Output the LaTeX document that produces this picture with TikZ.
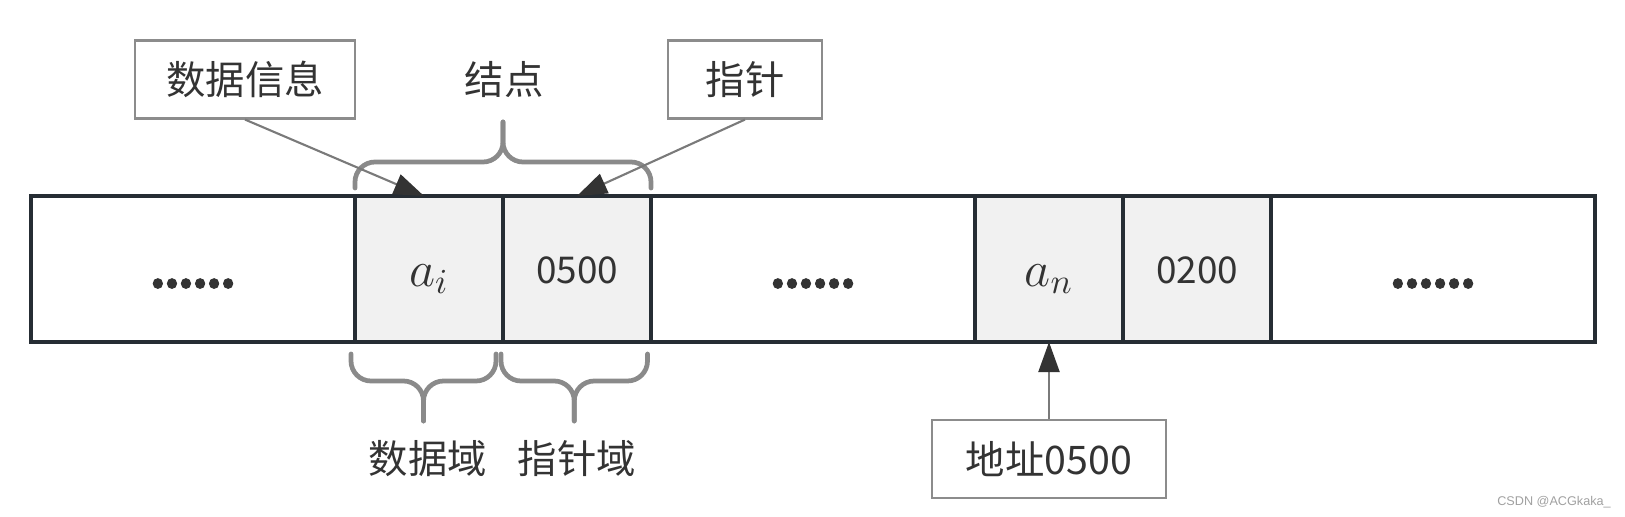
\documentclass[tikz,border=0pt]{standalone}
\usepackage{fontspec}
\setmainfont{Noto Sans CJK SC}
\newfontfamily\markfont{Liberation Sans}
\newfontfamily\dotfont[LetterSpace=-7.8,FakeBold=1.3]{Noto Sans CJK SC}
\usepackage{xcolor}
\usepackage{tikz}
\usetikzlibrary{positioning,arrows.meta,calc}
\definecolor{ink}{HTML}{333333}
\definecolor{barline}{HTML}{262D34}
\definecolor{cellfill}{HTML}{F1F1F1}
\definecolor{frame}{HTML}{8C8C8C}
\definecolor{bracegray}{HTML}{8A8A8A}
\definecolor{wire}{HTML}{7A7A7A}
\definecolor{tipdark}{HTML}{333333}
\definecolor{markgray}{HTML}{A0A0A0}
\newcommand{\bracepath}[4]{%
  \draw[bracepen] (#1) |- ($(#1)!.5!(#2)+(0,#3)$) -- ($(#1)!.5!(#2)+(0,#4)$);
  \draw[bracepen] ($(#1)!.5!(#2)+(0,#4)$) -- ($(#1)!.5!(#2)+(0,#3)$) -| (#2);}
\tikzset{
  memcell/.style={draw=barline, line width=1pt, outer sep=0pt,
        minimum height=1.46cm, text=ink, text depth=0pt},
  dotcell/.style={memcell, minimum width=3.24cm, text height=0.37cm,
        font=\dotfont\fontsize{20}{22}\selectfont},
  datacell/.style={memcell, fill=cellfill, minimum width=1.48cm},
  numcell/.style={datacell, text height=0.28cm, font=\fontsize{10.5}{12}\selectfont},
  mathcell/.style={datacell, text height=0.34cm, font=\fontsize{14.4}{17}\selectfont},
  tagbox/.style={draw=frame, line width=0.6pt, minimum height=0.78cm,
        text=ink, font=\fontsize{11.2}{13}\selectfont},
  tagtext/.style={text=ink, font=\fontsize{11.2}{13}\selectfont},
  ptrarrow/.style={draw=wire, line width=0.6pt,
        -{Triangle[length=0.3cm,width=0.21cm,color=tipdark,fill=tipdark]}},
  bracepen/.style={draw=bracegray, line width=1.35pt, line cap=round,
        rounded corners=0.2cm},
}
\begin{document}
\begin{tikzpicture}
  \useasboundingbox (0,0) rectangle (16.25,-5.17);
  % memory strip
  \node[dotcell, anchor=west] (left) at (0.31,-2.69) {......};
  \node[mathcell, right=0pt of left] (ai) {$a_i$};
  \node[numcell, right=0pt of ai] (ptr) {0500};
  \node[dotcell, right=0pt of ptr] (mid) {......};
  \node[mathcell, right=0pt of mid] (an) {$a_n$};
  \node[numcell, right=0pt of an] (nxt) {0200};
  \node[dotcell, right=0pt of nxt] (right) {......};

  \node[tagbox, minimum width=2.2cm] (info) at (2.45,-0.795) {数据信息};
  \node[tagtext] (nodelbl) at (5.04,-0.80) {结点};
  \node[tagbox, minimum width=1.546cm] (ptrlbl) at (7.45,-0.795) {指针};
  \node[tagbox, minimum width=2.343cm, below=0.77cm of an] (addr) {地址0500};
  \node[tagtext] (dfield) at (4.28,-4.59) {数据域};
  \node[tagtext] (pfield) at (5.77,-4.59) {指针域};

  \coordinate (tb-l) at ([yshift=0.08cm]ai.north west);
  \coordinate (tb-r) at ([yshift=0.08cm]ptr.north east);
  \coordinate (db-l) at ([shift={(-0.04,-0.12)}]ai.south west);
  \coordinate (db-r) at ([shift={(-0.07,-0.12)}]ai.south east);
  \coordinate (pb-l) at ([shift={(-0.02,-0.12)}]ptr.south west);
  \coordinate (pb-r) at ([shift={(-0.035,-0.12)}]ptr.south east);
  \bracepath{tb-l}{tb-r}{0.26}{0.66}
  \bracepath{db-l}{db-r}{-0.27}{-0.67}
  \bracepath{pb-l}{pb-r}{-0.27}{-0.67}

  \draw[ptrarrow] (info.south) -- ([xshift=-0.05cm]ai.north);
  \draw[ptrarrow] (ptrlbl.south) -- (ptr.north);
  \draw[ptrarrow] (addr.north) -- (an.south);

  \node[text=markgray, font=\markfont\fontsize{3.6}{4}\selectfont] (mark)
        at (15.54,-5.02) {CSDN @ACGkaka\_};
\end{tikzpicture}
\end{document}
